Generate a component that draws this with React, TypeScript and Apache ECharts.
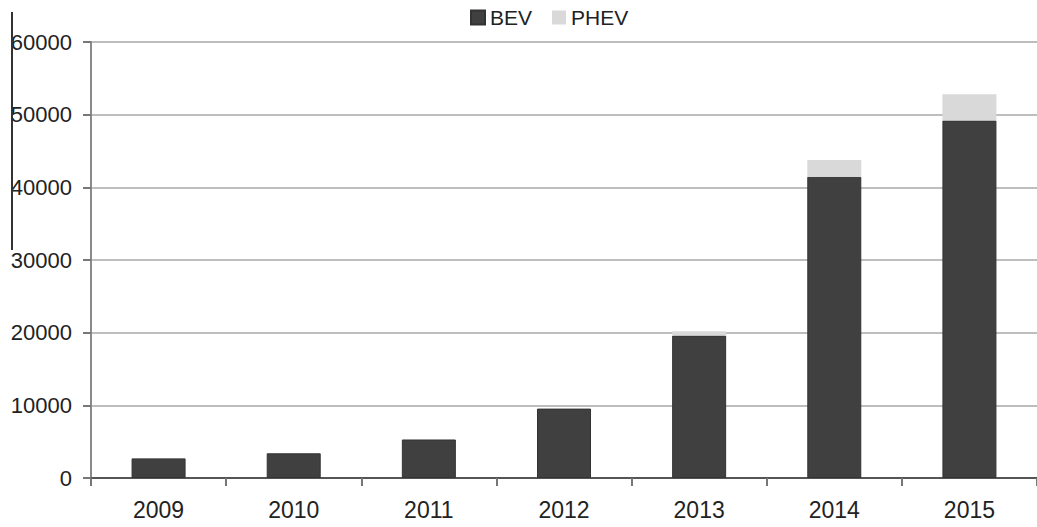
import React, { useEffect, useRef } from "react";
import * as echarts from "echarts";

const years = ["2009", "2010", "2011", "2012", "2013", "2014", "2015"];
const bevValues = [2700, 3400, 5300, 9550, 19600, 41450, 49200];
const phevValues = [0, 0, 0, 0, 600, 2300, 3600];
const yTicks = { min: 0, max: 60000, interval: 10000 };

export default function App() {
  const ref = useRef<HTMLDivElement>(null);

  useEffect(() => {
    if (!ref.current) return;
    const chart = echarts.init(ref.current, undefined, { renderer: "svg" });
    const font = "'Liberation Sans', Arial, sans-serif";
    chart.setOption({
      animation: false,
      backgroundColor: "#ffffff",
      textStyle: { fontFamily: font },
      legend: {
        top: 5,
        left: 470,
        padding: [2, 0, 2, 0],
        itemWidth: 14,
        itemHeight: 14,
        itemGap: 20,
        icon: "rect",
        textStyle: { fontSize: 21, color: "#222", fontFamily: font },
        data: ["BEV", "PHEV"],
      },
      grid: { left: 91, top: 42, width: 952, height: 436, containLabel: false },
      xAxis: {
        type: "category",
        data: years,
        axisLine: { lineStyle: { color: "#555", width: 2 } },
        axisTick: { show: true, length: 8, inside: false, lineStyle: { color: "#777", width: 2 } },
        axisLabel: { fontSize: 23, color: "#222", margin: 20, fontFamily: font },
      },
      yAxis: {
        type: "value",
        min: yTicks.min,
        max: yTicks.max,
        interval: yTicks.interval,
        axisLine: { show: true, lineStyle: { color: "#8a8a8a", width: 2 } },
        axisTick: { show: true, length: 8, lineStyle: { color: "#777", width: 2 } },
        splitLine: { lineStyle: { color: "#a8a8a8", width: 1.5 } },
        axisLabel: {
          fontSize: 22,
          color: "#222",
          margin: 19,
          fontFamily: font,
          formatter: (v: number) => String(v),
        },
      },
      series: [
        {
          name: "BEV",
          type: "bar",
          stack: "total",
          barWidth: 54,
          data: bevValues,
          itemStyle: { color: "#404040", borderColor: "#333", borderWidth: 1 },
        },
        {
          name: "PHEV",
          type: "bar",
          stack: "total",
          barWidth: 54,
          data: phevValues,
          itemStyle: { color: "#d9d9d9" },
        },
      ],
      graphic: [
        {
          type: "line",
          shape: { x1: 12, y1: 12, x2: 12, y2: 250 },
          style: { stroke: "#333", lineWidth: 2 },
          z: 10,
        },
      ],
    });
    return () => chart.dispose();
  }, []);

  return (
    <div
      ref={ref}
      style={{ position: "fixed", left: 0, top: 0, width: 1037, height: 527, overflow: "hidden" }}
    />
  );
}
